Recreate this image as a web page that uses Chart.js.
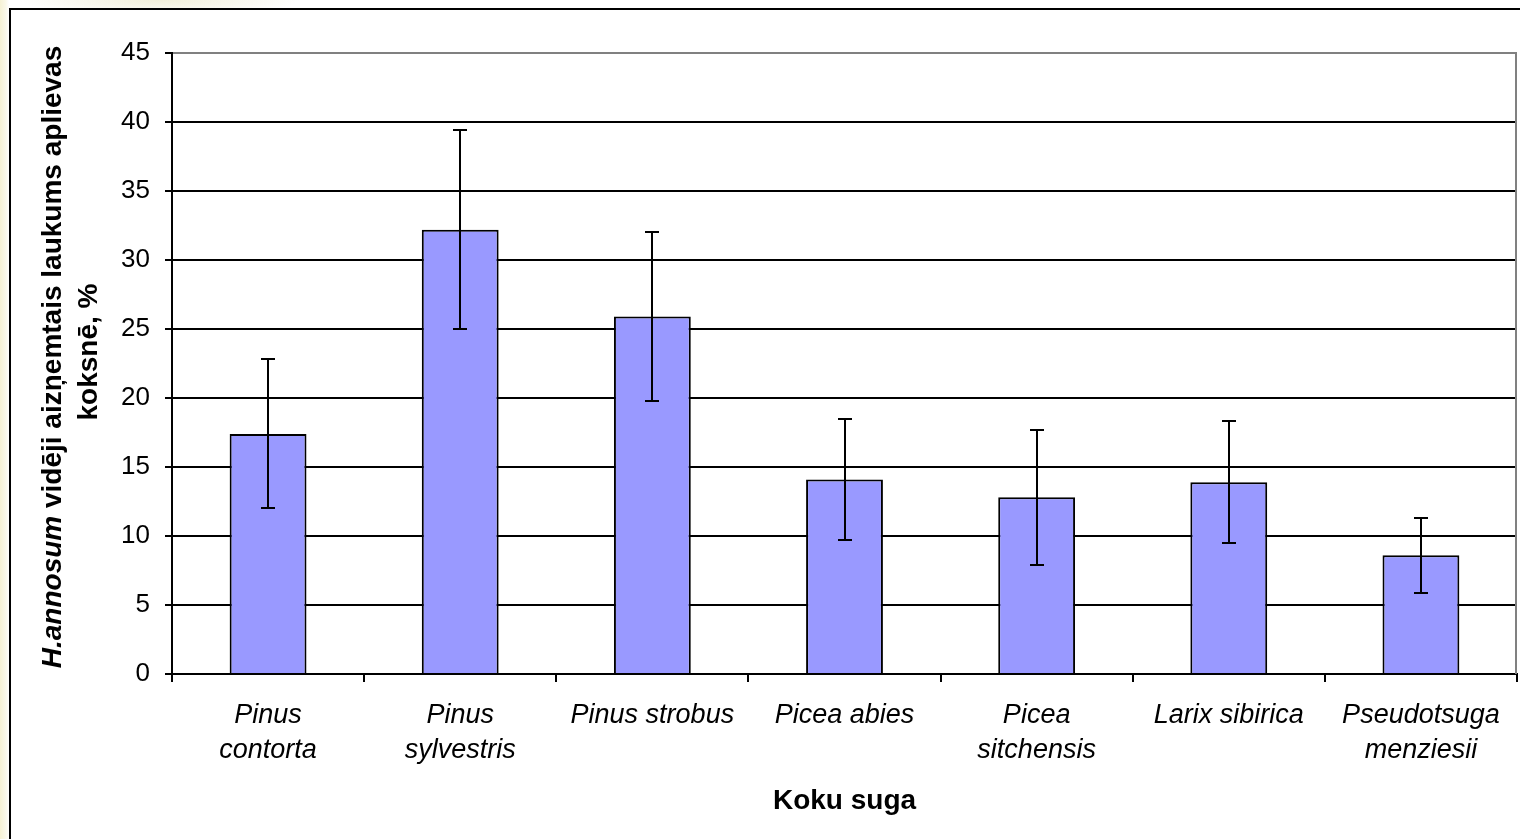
<!DOCTYPE html>
<html>
<head>
<meta charset="utf-8">
<script src="https://cdn.jsdelivr.net/npm/chart.js@4/dist/chart.umd.min.js"></script>
<style>
  html, body { margin: 0; padding: 0; width: 1520px; height: 839px; overflow: hidden; }
  body {
    background:
      radial-gradient(ellipse 140px 16px at 160px 0px, #f1efd9 0%, rgba(255,255,255,0) 100%),
      linear-gradient(to right, #f5f1d4 0px, #faf8ea 6px, #ffffff 9px);
  }
  #frame {
    position: absolute; left: 9px; top: 8px; width: 1700px; height: 1000px;
    border-left: 2px solid #000; border-top: 2px solid #000; background: #fff;
  }
  #wrap { position: absolute; left: 0; top: 0; width: 1520px; height: 839px; }
</style>
</head>
<body>
<div id="frame"></div>
<div id="wrap"><canvas id="chart" width="1520" height="839"></canvas></div>
<script>
// Tree species (two-line labels where the name wraps)
const species = [
  ['Pinus', 'contorta'],
  ['Pinus', 'sylvestris'],
  ['Pinus strobus'],
  ['Picea abies'],
  ['Picea', 'sitchensis'],
  ['Larix sibirica'],
  ['Pseudotsuga', 'menziesii']
];
// Mean area of sapwood occupied by H. annosum, %
const meanArea = [17.4, 32.2, 25.9, 14.1, 12.8, 13.9, 8.6];
// Error bar half-lengths, %
const errorSize = [5.4, 7.2, 6.1, 4.4, 4.9, 4.4, 2.7];
// Value axis range and step
const yMin = 0;
const yMax = 45;
const yStep = 5;
// Axis titles
const xTitle = 'Koku suga';
const yTitleItalic = 'H.annosum';
const yTitleRest = ' vidēji aizņemtais laukums aplievas';
const yTitleLine2 = 'koksnē, %';

const FONT = '"Liberation Sans", Arial, Helvetica, sans-serif';

// Right-hand gray frame of the plot area
const plotFrame = {
  id: 'plotFrame',
  beforeDatasetsDraw(chart) {
    const { ctx, chartArea: a } = chart;
    ctx.save();
    ctx.strokeStyle = '#808080';
    ctx.lineWidth = 2;
    ctx.beginPath();
    ctx.moveTo(a.right - 1, a.top);
    ctx.lineTo(a.right - 1, a.bottom);
    ctx.stroke();
    ctx.restore();
  }
};

// Error bars drawn from the same values as the bars
const errorBars = {
  id: 'errorBars',
  afterDatasetsDraw(chart) {
    const { ctx } = chart;
    const y = chart.scales.y;
    const meta = chart.getDatasetMeta(0);
    ctx.save();
    ctx.strokeStyle = '#000';
    ctx.lineWidth = 2;
    meta.data.forEach((bar, i) => {
      const x = Math.round(bar.x);
      const hi = Math.round(y.getPixelForValue(meanArea[i] + errorSize[i]));
      const lo = Math.round(y.getPixelForValue(meanArea[i] - errorSize[i]));
      ctx.beginPath();
      ctx.moveTo(x, hi); ctx.lineTo(x, lo);
      ctx.moveTo(x - 7, hi); ctx.lineTo(x + 7, hi);
      ctx.moveTo(x - 7, lo); ctx.lineTo(x + 7, lo);
      ctx.stroke();
    });
    ctx.restore();
  }
};

// Axis titles (the value-axis title mixes italic and upright bold text)
const axisTitles = {
  id: 'axisTitles',
  afterDraw(chart) {
    const { ctx, chartArea: a } = chart;
    ctx.save();
    ctx.fillStyle = '#000';
    ctx.textBaseline = 'alphabetic';
    ctx.textAlign = 'center';
    ctx.font = 'bold 28px ' + FONT;
    ctx.fillText(xTitle, (a.left + a.right) / 2, 809);

    const fItal = 'italic bold 28px ' + FONT;
    const fBold = 'bold 28px ' + FONT;
    ctx.font = fItal; const w1 = ctx.measureText(yTitleItalic).width;
    ctx.font = fBold; const w2 = ctx.measureText(yTitleRest).width;
    const total = w1 + w2;

    ctx.save();
    ctx.translate(61, 357);
    ctx.rotate(-Math.PI / 2);
    ctx.textAlign = 'left';
    ctx.font = fItal; ctx.fillText(yTitleItalic, -total / 2, 0);
    ctx.font = fBold; ctx.fillText(yTitleRest, -total / 2 + w1, 0);
    ctx.restore();

    ctx.save();
    ctx.translate(97, 352);
    ctx.rotate(-Math.PI / 2);
    ctx.textAlign = 'center';
    ctx.font = fBold; ctx.fillText(yTitleLine2, 0, 0);
    ctx.restore();
    ctx.restore();
  }
};

new Chart(document.getElementById('chart'), {
  type: 'bar',
  data: {
    labels: species,
    datasets: [{
      data: meanArea,
      backgroundColor: '#9999ff',
      borderColor: '#000',
      borderWidth: 2,
      barPercentage: 0.4,
      categoryPercentage: 1
    }]
  },
  options: {
    responsive: false,
    animation: false,
    devicePixelRatio: 1,
    layout: { padding: { top: 53, right: 3, left: 0, bottom: 0 } },
    plugins: { legend: { display: false }, tooltip: { enabled: false } },
    scales: {
      x: {
        offset: true,
        grid: {
          offset: true, drawOnChartArea: false, drawTicks: true,
          tickLength: 8, color: '#000', lineWidth: 2
        },
        border: { display: true, color: '#000', width: 2 },
        ticks: {
          color: '#000', autoSkip: false, maxRotation: 0, minRotation: 0, padding: 16,
          font: { family: FONT, size: 27, style: 'italic', lineHeight: 1.3 }
        },
        afterFit(s) { s.height = 165; }
      },
      y: {
        min: yMin, max: yMax,
        ticks: {
          stepSize: yStep, color: '#000', padding: 15,
          font: { family: FONT, size: 26 }
        },
        grid: {
          color: (c) => (c.tick && c.tick.value === yMax ? '#808080' : '#000'),
          tickColor: '#000', lineWidth: 2, tickLength: 7
        },
        border: { display: true, color: '#000', width: 2 },
        afterFit(s) { s.width = 172; }
      }
    }
  },
  plugins: [plotFrame, errorBars, axisTitles]
});
</script>
</body>
</html>
